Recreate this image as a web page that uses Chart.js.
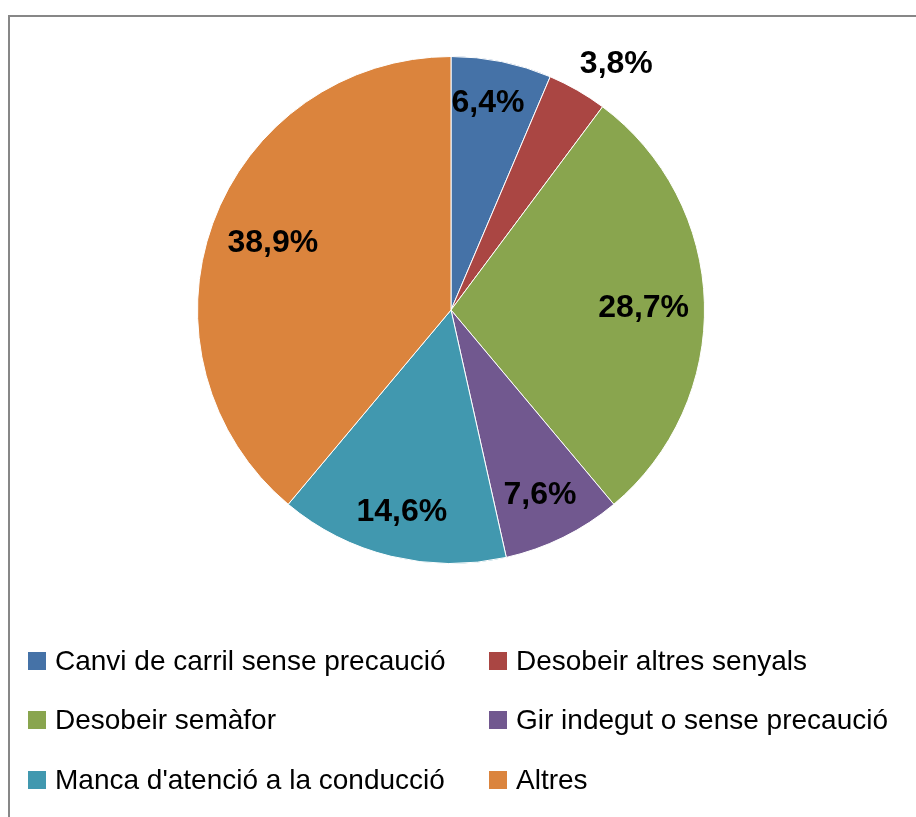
<!DOCTYPE html>
<html>
<head>
<meta charset="utf-8">
<script src="https://cdn.jsdelivr.net/npm/chart.js@4/dist/chart.umd.min.js"></script>
<style>
  html, body { margin: 0; padding: 0; background: #fff; }
  canvas { display: block; }
</style>
</head>
<body>
<canvas id="pie-chart" width="916" height="817"></canvas>
<script>
// dades del gràfic
const categories = [
  'Canvi de carril sense precaució',
  'Desobeir altres senyals',
  'Desobeir semàfor',
  'Gir indegut o sense precaució',
  "Manca d'atenció a la conducció",
  'Altres'
];
const percentages = [6.4, 3.8, 28.7, 7.6, 14.6, 38.9];
const sliceColors = ['#4572A7', '#AA4643', '#89A54E', '#71588F', '#4198AF', '#DB843D'];

// posició de les etiquetes (fracció del radi i gir en graus)
const labelRadius = [0.83, 1.17, 0.76, 0.81, 0.82, 0.75];
const labelTurn = [-1.4, 4, 1, 0.6, 0, 0.5];

// marc gris del gràfic
const framePlugin = {
  id: 'frame',
  beforeDraw(chart) {
    const ctx = chart.ctx;
    ctx.save();
    ctx.strokeStyle = '#878787';
    ctx.lineWidth = 2;
    ctx.strokeRect(9, 16, 1200, 1200);
    ctx.restore();
  }
};

// etiquetes de percentatge
const valueLabels = {
  id: 'valueLabels',
  afterDatasetsDraw(chart) {
    const ctx = chart.ctx;
    const meta = chart.getDatasetMeta(0);
    ctx.save();
    ctx.font = 'bold 32px "Liberation Sans", Arial, sans-serif';
    ctx.fillStyle = '#000';
    ctx.textAlign = 'center';
    ctx.textBaseline = 'middle';
    meta.data.forEach((arc, i) => {
      const p = arc.getProps(['x', 'y', 'startAngle', 'endAngle', 'outerRadius'], true);
      const mid = (p.startAngle + p.endAngle) / 2 + labelTurn[i] * Math.PI / 180;
      const r = p.outerRadius * labelRadius[i];
      const txt = percentages[i].toFixed(1).replace('.', ',') + '%';
      ctx.fillText(txt, p.x + Math.cos(mid) * r, p.y + Math.sin(mid) * r);
    });
    ctx.restore();
  }
};

// llegenda en dues columnes
const legendGrid = {
  id: 'legendGrid',
  afterDraw(chart) {
    const ctx = chart.ctx;
    const colX = [28, 489];
    const rowY = [661, 720, 780];
    const box = 18;
    ctx.save();
    ctx.font = '28px "Liberation Sans", Arial, sans-serif';
    ctx.textBaseline = 'middle';
    ctx.textAlign = 'left';
    chart.data.labels.forEach((label, i) => {
      const x = colX[i % 2];
      const y = rowY[Math.floor(i / 2)];
      ctx.fillStyle = chart.data.datasets[0].backgroundColor[i];
      ctx.fillRect(x, y - box / 2, box, box);
      ctx.fillStyle = '#000';
      ctx.fillText(label, x + 27, y + 1);
    });
    ctx.restore();
  }
};

const ctx = document.getElementById('pie-chart').getContext('2d');
new Chart(ctx, {
  type: 'pie',
  data: {
    labels: categories,
    datasets: [{
      data: percentages,
      backgroundColor: sliceColors,
      borderColor: '#ffffff',
      borderWidth: 1
    }]
  },
  options: {
    responsive: false,
    animation: false,
    layout: {
      padding: { left: 197, right: 211, top: 56, bottom: 253 }
    },
    plugins: {
      legend: { display: false },
      tooltip: { enabled: false }
    }
  },
  plugins: [framePlugin, valueLabels, legendGrid]
});
</script>
</body>
</html>
